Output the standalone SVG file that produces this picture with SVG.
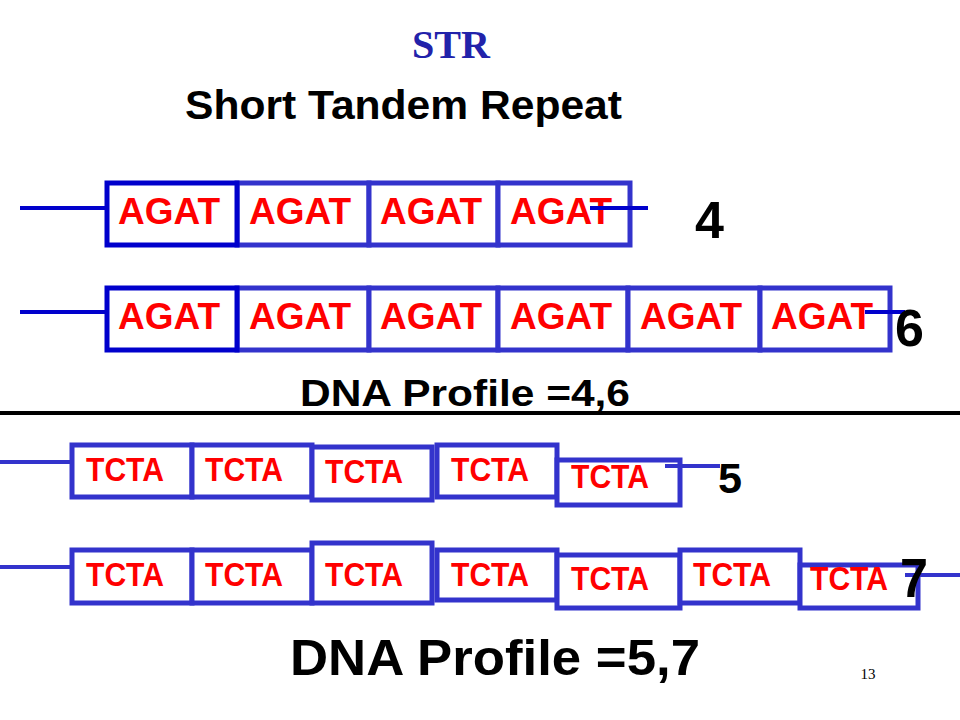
<svg xmlns="http://www.w3.org/2000/svg" width="960" height="720" viewBox="0 0 960 720">
<style>
.b{fill:#fff;stroke:#3333CC;stroke-width:5}
.d{fill:#fff;stroke:#0000CC;stroke-width:5}
.l{stroke:#3333CC;stroke-width:4}
.ld{stroke:#0000CC;stroke-width:4}
.a{font-family:"Liberation Sans",Arial,sans-serif;font-weight:bold;font-size:36px;fill:#FF0000}
.t{font-family:"Liberation Sans",Arial,sans-serif;font-weight:bold;font-size:33px;fill:#FF0000}
.n{font-family:"Liberation Sans",Arial,sans-serif;font-weight:bold;fill:#000}
</style>
<rect width="960" height="720" fill="#fff"/>
<text x="412" y="58" textLength="78" lengthAdjust="spacingAndGlyphs" font-family="Liberation Serif,serif" font-weight="bold" font-size="40" fill="#2222AA">STR</text>
<text x="185" y="119" textLength="437" lengthAdjust="spacingAndGlyphs" class="n" font-size="41">Short Tandem Repeat</text>
<g id="connectors">
<line class="ld" x1="20" y1="208" x2="107" y2="208"/>
<line class="ld" x1="20" y1="312" x2="107" y2="312"/>
<line class="l" x1="0" y1="462" x2="72" y2="462"/>
<line class="l" x1="0" y1="567" x2="72" y2="567"/>
<line x1="0" y1="413" x2="960" y2="413" stroke="#000" stroke-width="4"/>
</g>
<g id="row1">
<rect class="b" x="237" y="183" width="132" height="62"/><rect class="b" x="369" y="183" width="129" height="62"/><rect class="b" x="498" y="183" width="132" height="62"/>
<rect class="d" x="107" y="183" width="130" height="62"/>
<g class="a"><text x="118" y="224" textLength="102" lengthAdjust="spacingAndGlyphs">AGAT</text><text x="249" y="224" textLength="102" lengthAdjust="spacingAndGlyphs">AGAT</text><text x="380" y="224" textLength="102" lengthAdjust="spacingAndGlyphs">AGAT</text><text x="510" y="224" textLength="102" lengthAdjust="spacingAndGlyphs">AGAT</text></g>
<line class="ld" x1="590" y1="208" x2="648" y2="208"/>
<text class="n" x="695" y="238" font-size="52">4</text>
</g>
<g id="row2">
<rect class="b" x="237" y="288" width="132" height="62"/><rect class="b" x="369" y="288" width="129" height="62"/><rect class="b" x="498" y="288" width="130" height="62"/><rect class="b" x="628" y="288" width="132" height="62"/><rect class="b" x="760" y="288" width="130" height="62"/>
<rect class="d" x="107" y="288" width="130" height="62"/>
<g class="a"><text x="118" y="329" textLength="102" lengthAdjust="spacingAndGlyphs">AGAT</text><text x="249" y="329" textLength="102" lengthAdjust="spacingAndGlyphs">AGAT</text><text x="380" y="329" textLength="102" lengthAdjust="spacingAndGlyphs">AGAT</text><text x="510" y="329" textLength="102" lengthAdjust="spacingAndGlyphs">AGAT</text><text x="640" y="329" textLength="102" lengthAdjust="spacingAndGlyphs">AGAT</text><text x="771" y="329" textLength="102" lengthAdjust="spacingAndGlyphs">AGAT</text></g>
<line class="ld" x1="865" y1="312" x2="905" y2="312"/>
<text class="n" x="895" y="346" font-size="52">6</text>
</g>
<text x="300" y="406" textLength="330" lengthAdjust="spacingAndGlyphs" class="n" font-size="36">DNA Profile =4,6</text>
<g id="row3">
<rect class="b" x="72" y="445" width="120" height="52"/><rect class="b" x="192" y="445" width="120" height="52"/><rect class="b" x="312" y="447" width="120" height="53"/><rect class="b" x="437" y="445" width="120" height="52"/><rect class="b" x="557" y="460" width="123" height="45"/>
<g class="t"><text x="86" y="481" textLength="78" lengthAdjust="spacingAndGlyphs">TCTA</text><text x="205" y="481" textLength="78" lengthAdjust="spacingAndGlyphs">TCTA</text><text x="325" y="483" textLength="78" lengthAdjust="spacingAndGlyphs">TCTA</text><text x="451" y="481" textLength="78" lengthAdjust="spacingAndGlyphs">TCTA</text><text x="571" y="488" textLength="78" lengthAdjust="spacingAndGlyphs">TCTA</text></g>
<line class="l" x1="665" y1="466" x2="720" y2="466"/>
<text class="n" x="718" y="493" font-size="42" textLength="24" lengthAdjust="spacingAndGlyphs">5</text>
</g>
<g id="row4">
<rect class="b" x="72" y="550" width="120" height="53"/><rect class="b" x="192" y="550" width="120" height="53"/><rect class="b" x="312" y="543" width="120" height="60"/><rect class="b" x="437" y="550" width="120" height="50"/><rect class="b" x="557" y="555" width="123" height="53"/><rect class="b" x="680" y="550" width="120" height="53"/><rect class="b" x="800" y="565" width="118" height="43"/>
<g class="t"><text x="86" y="586" textLength="78" lengthAdjust="spacingAndGlyphs">TCTA</text><text x="205" y="586" textLength="78" lengthAdjust="spacingAndGlyphs">TCTA</text><text x="325" y="586" textLength="78" lengthAdjust="spacingAndGlyphs">TCTA</text><text x="451" y="586" textLength="78" lengthAdjust="spacingAndGlyphs">TCTA</text><text x="571" y="590" textLength="78" lengthAdjust="spacingAndGlyphs">TCTA</text><text x="693" y="586" textLength="78" lengthAdjust="spacingAndGlyphs">TCTA</text><text x="810" y="590" textLength="78" lengthAdjust="spacingAndGlyphs">TCTA</text></g>
<line class="l" x1="905" y1="575" x2="960" y2="575"/>
<text class="n" x="900" y="597" font-size="56" textLength="28" lengthAdjust="spacingAndGlyphs">7</text>
</g>
<text x="290" y="675" textLength="410" lengthAdjust="spacingAndGlyphs" class="n" font-size="50">DNA Profile =5,7</text>
<text x="868" y="679" text-anchor="middle" font-family="Liberation Serif,serif" font-size="15">13</text>
</svg>
